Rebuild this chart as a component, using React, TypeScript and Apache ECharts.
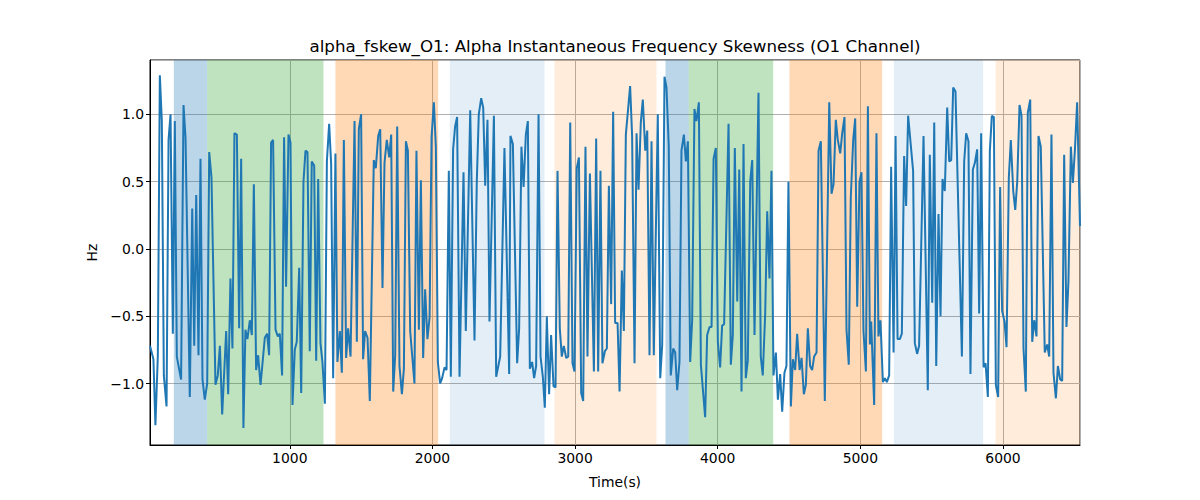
import React, { useEffect, useRef } from 'react'
import * as echarts from 'echarts'

// sample times (s) and skewness values (Hz)
const times = [
  20, 44, 58, 75, 89, 103, 117, 136, 150, 164, 180, 194, 208, 238, 255, 269, 299, 316, 330, 344,
  360, 374, 388, 404, 421, 435, 451, 479, 495, 510, 526, 554, 568, 584, 598, 612, 629, 645, 659, 675,
  689, 703, 720, 734, 748, 764, 778, 795, 825, 841, 855,
  869, 883, 900, 916, 930, 946, 960, 974, 991, 1005, 1019, 1035, 1049, 1066, 1080, 1096, 1110, 1124, 1140, 1154,
  1171, 1185, 1199, 1215, 1229, 1246, 1260, 1276, 1290, 1304, 1320, 1334, 1351, 1365, 1379, 1395, 1409, 1426, 1454, 1470,
  1484, 1500, 1514, 1528, 1545, 1561, 1589, 1603, 1620, 1634, 1650, 1664, 1680, 1697,
  1711, 1725, 1739, 1753, 1769, 1786, 1800, 1814, 1828, 1844, 1874, 1888, 1905, 1919, 1935, 1949, 1965, 1980, 1994, 2010,
  2024, 2038, 2054, 2068, 2085, 2099, 2115, 2129, 2145, 2159, 2173, 2190, 2218, 2234, 2265, 2295, 2311, 2325, 2342, 2356,
  2370, 2386, 2400, 2431, 2447, 2475, 2505, 2538,
  2547, 2564, 2594, 2608, 2624, 2639, 2655, 2669, 2683, 2699, 2713, 2727, 2744, 2758, 2774, 2788, 2802, 2818, 2832, 2849,
  2863, 2877, 2893, 2907, 2921, 2938, 2952, 2966, 2982, 2996, 3012, 3027, 3043, 3057, 3073, 3087, 3104, 3132, 3148, 3162,
  3178, 3192, 3209, 3223, 3237, 3253, 3267, 3281, 3298, 3312, 3328, 3342, 3356,
  3386, 3400, 3417, 3431, 3445, 3461, 3475, 3492, 3506, 3522, 3536, 3552, 3580, 3597, 3611, 3627, 3641, 3657, 3671, 3688,
  3702, 3716, 3732, 3746, 3763, 3777, 3791, 3807, 3821, 3837, 3851, 3868, 3882, 3912, 3926, 3943, 3957, 3971, 3987, 4001,
  4017, 4031, 4045, 4076, 4092, 4106, 4120, 4137, 4151, 4167, 4181, 4197, 4211,
  4228, 4242, 4258, 4286, 4302, 4316, 4333, 4347, 4363, 4377, 4391, 4408, 4422, 4438, 4452, 4468, 4482, 4496, 4513, 4527,
  4543, 4557, 4574, 4588, 4604, 4618, 4632, 4648, 4662, 4676, 4693, 4707, 4723, 4751, 4782, 4798, 4812, 4828, 4842, 4859,
  4873, 4889, 4903, 4919, 4933, 4950, 4964, 4978, 4994, 5008, 5022, 5039, 5053,
  5067, 5076, 5097, 5113, 5127, 5141, 5158, 5172, 5186, 5202, 5216, 5233, 5247, 5261, 5277, 5291, 5307, 5321, 5335, 5370,
  5382, 5398, 5412, 5443, 5473, 5487, 5504, 5518, 5532, 5548, 5562, 5576, 5592, 5609, 5623, 5637, 5651, 5667, 5712, 5728,
  5742, 5758, 5772, 5789, 5803, 5819, 5833, 5847, 5864, 5878, 5894,
  5908, 5922, 5936, 5950, 5966, 5980, 5994, 6011, 6025, 6041, 6055, 6072, 6086, 6100, 6116, 6130, 6144, 6160, 6174, 6191,
  6205, 6219, 6235, 6249, 6265, 6293, 6310, 6324, 6340, 6354, 6371, 6385, 6401, 6415, 6429, 6445, 6459, 6476, 6490, 6504,
  6520, 6540
]

const skew = [
  -0.72, -0.82, -1.31, -0.79, 1.29, 0.95, -0.94, -1.17, 0.81, 1.0, -0.63, 0.95, -0.8, -0.97, 1.07, 0.83, -1.1, 0.3, -0.72, 0.4,
  -0.79, 0.67, -0.97, -1.12, -1.0, 0.72, 0.53, -1.01, -0.94, -0.72, -1.23, -0.61, -1.08, -0.22, -0.74, 0.86, 0.85, -0.59, 0.67, -1.33,
  -0.6, -0.67, -0.53, -0.64, 0.48, -0.9, -0.79, -1.01, -0.66, -0.63, -0.79,
  0.79, 0.81, -0.6, -0.65, -0.63, -0.94, 0.83, -0.28, 0.85, 0.79, -1.16, -0.75, -0.69, -0.14, -1.07, 0.5, 0.73, 0.72, -0.76, 0.65,
  0.62, -0.83, 0.52, -0.7, -0.84, -1.15, 0.65, 0.93, 0.63, -0.96, 0.71, -0.84, -0.61, -0.92, 0.81, -0.81, -0.59, -0.8, 0.95, -0.69,
  0.89, 1.0, -0.82, -0.61, -0.66, -1.13, 0.66, 0.6, 0.84, 0.89, -0.29, 0.64, 0.81, 0.68,
  0.85, -1.06, -0.79, 0.91, -0.87, -1.08, -0.89, 0.8, 0.73, -0.61, -1.0, 0.73, -0.6, 0.51, -0.81, -0.3, -0.67, -0.51, 0.83, 1.09,
  0.76, -0.84, -1.0, -0.96, -0.88, -0.9, 0.58, -0.95, 0.74, 0.91, 0.98, -0.95, 0.57, -0.61, 1.03, -0.68, 0.5, 1.0, 1.12, 1.05,
  0.47, 0.96, -0.54, 0.99, -0.95, -0.8, 0.75, -0.93,
  0.84, 0.78, -0.85, -0.59, 0.76, 0.46, 0.85, 0.95, -0.89, -0.84, -0.96, -0.87, 1.0, -0.8, -0.95, -1.18, -0.5, -1.08, -0.64, -1.02,
  -1.03, 0.58, -0.59, -0.8, -0.72, -0.81, -0.8, 0.94, -0.85, -0.91, 0.6, 0.68, -1.07, -1.13, 0.76, -0.8, 0.56, -0.91, 0.82, -0.91,
  0.58, -0.85, -0.76, -0.74, 0.47, -0.41, 1.02, -0.55, -0.55, -1.06, -0.16, -0.61, 0.85,
  1.21, 0.84, -0.85, 0.86, 0.44, 0.94, 1.11, 0.73, 0.88, -0.79, 0.8, -0.79, 1.0, -0.96, -0.71, 1.28, 1.2, 0.76, -0.94, -0.74,
  -0.77, -1.05, -0.84, 0.73, 0.85, 0.65, 0.8, -0.84, -0.53, 1.04, 0.95, 1.09, -0.86, -1.25, -0.64, -0.58, -0.58, 0.67, 0.75, -0.69,
  -0.88, -0.57, -0.56, 0.93, -0.86, -0.64, 0.75, -0.39, 0.59, -1.06, 0.78, -0.96, -0.83,
  0.5, 0.66, -0.64, 1.16, -0.8, -0.94, -0.48, 0.28, -0.22, 0.58, -0.94, -0.77, -1.12, -0.93, -1.21, -0.92, -0.87, 0.5, -1.17, -0.82,
  -0.9, -0.63, -0.9, -0.81, -1.08, -1.01, -0.59, -0.87, -0.9, -0.8, -0.77, 0.73, 0.8, -1.13, 1.09, 0.41, 0.48, 0.96, 0.81, 0.71,
  0.86, 0.98, -0.6, -0.86, 0.38, 0.81, 0.97, -0.43, 0.5, 0.57, -0.61, -0.91, 1.06,
  -0.71, -0.54, -1.16, 0.86, -0.65, -0.53, -0.99, -0.96, -0.99, -0.94, 0.61, -0.77, 0.84, -0.67, -0.67, -0.63, 0.69, 0.32, 0.99, 0.58,
  -0.7, -0.78, -0.72, 0.84, -1.05, 0.7, -0.4, 0.94, -0.87, 0.26, -0.5, 0.52, 0.43, 1.05, 0.65, 0.66, 1.2, 1.17, -0.8, 0.65,
  0.86, 0.8, -0.93, 0.59, 0.64, 0.74, -0.48, 0.86, -0.88, -0.85, -1.1,
  0.73, 0.99, 0.98, -1.01, -1.1, 0.46, -0.46, -0.54, -0.73, 0.53, 0.81, 0.43, 0.29, 0.5, 1.07, 0.99, -0.74, -1.06, 1.01, 1.11,
  -0.69, -0.53, -0.65, 0.84, 0.76, -0.77, -0.71, -0.8, 0.85, -0.92, -1.11, -0.87, -0.97, -0.98, 0.7, -0.58, -0.24, 0.76, 0.49, 0.73,
  1.09, 0.17
]

// shaded epochs
const spanStart = [187, 421, 1320, 2122, 2856, 3634, 3797, 4503, 5235, 5948]
const spanEnd = [421, 1236, 2040, 2786, 3571, 3797, 4389, 5153, 5861, 6540]
const spanColor = [
  'rgba(31,119,180,0.3)',
  'rgba(44,160,44,0.3)',
  'rgba(255,127,14,0.3)',
  'rgba(31,119,180,0.12)',
  'rgba(255,127,14,0.15)',
  'rgba(31,119,180,0.3)',
  'rgba(44,160,44,0.3)',
  'rgba(255,127,14,0.3)',
  'rgba(31,119,180,0.12)',
  'rgba(255,127,14,0.15)'
]

const xMin = 20
const xMax = 6540
const yMin = -1.457
const yMax = 1.404

const font = 'DejaVu Sans'

const App: React.FC = () => {
  const chartRef = useRef<HTMLDivElement>(null)

  useEffect(() => {
    if (!chartRef.current) return
    const chart = echarts.init(chartRef.current, undefined, { renderer: 'svg' })

    const fmtY = (v: number) => v.toFixed(1).replace('-', '\u2212')
    const fmtX = (v: number) => String(Math.round(v))

    const option = {
      animation: false,
      grid: {
        left: 150,
        right: 120,
        top: 60,
        bottom: 55,
        show: true,
        borderColor: '#000',
        borderWidth: 1,
        backgroundColor: 'transparent'
      },
      graphic: [
        {
          type: 'text',
          x: 615,
          y: 46,
          style: {
            text: 'alpha_fskew_O1: Alpha Instantaneous Frequency Skewness (O1 Channel)',
            align: 'center',
            verticalAlign: 'middle',
            font: `16.7px "${font}"`,
            fill: '#000'
          }
        }
      ],
      xAxis: {
        type: 'value',
        min: xMin,
        max: xMax,
        name: 'Time(s)',
        nameLocation: 'middle',
        nameGap: 30,
        nameTextStyle: { fontFamily: font, fontSize: 13.9, color: '#000' },
        axisLine: { show: true, onZero: false, lineStyle: { color: '#000', width: 1 } },
        axisTick: { show: true, length: 4, lineStyle: { color: '#000' } },
        axisLabel: {
          showMinLabel: false,
          showMaxLabel: false,
          margin: 6,
          fontFamily: font,
          fontSize: 13.9,
          color: '#000',
          formatter: fmtX
        },
        splitLine: { show: true, lineStyle: { color: '#b0b0b0', width: 1 } }
      },
      yAxis: {
        type: 'value',
        min: yMin,
        max: yMax,
        name: 'Hz',
        nameLocation: 'middle',
        nameGap: 50,
        nameRotate: 90,
        nameTextStyle: { fontFamily: font, fontSize: 13.9, color: '#000' },
        axisLine: { show: true, onZero: false, lineStyle: { color: '#000', width: 1 } },
        axisTick: { show: true, length: 4, lineStyle: { color: '#000' } },
        axisLabel: {
          showMinLabel: false,
          showMaxLabel: false,
          margin: 6,
          fontFamily: font,
          fontSize: 13.9,
          color: '#000',
          formatter: fmtY
        },
        splitLine: { show: true, lineStyle: { color: '#b0b0b0', width: 1 } }
      },
      series: [
        {
          type: 'line',
          z: 1,
          data: [],
          silent: true,
          markArea: {
            silent: true,
            data: spanStart.map((s, i) => [
              { xAxis: s, itemStyle: { color: spanColor[i] } },
              { xAxis: spanEnd[i] }
            ])
          }
        },
        {
          type: 'line',
          z: 3,
          data: times.map((t, i) => [t, skew[i]]),
          showSymbol: false,
          lineStyle: { color: '#1f77b4', width: 2 },
          itemStyle: { color: '#1f77b4' }
        }
      ]
    }

    chart.setOption(option)
    return () => {
      chart.dispose()
    }
  }, [])

  return (
    <div
      ref={chartRef}
      style={{ position: 'absolute', left: 0, top: 0, width: 1200, height: 500 }}
    />
  )
}

export default App
